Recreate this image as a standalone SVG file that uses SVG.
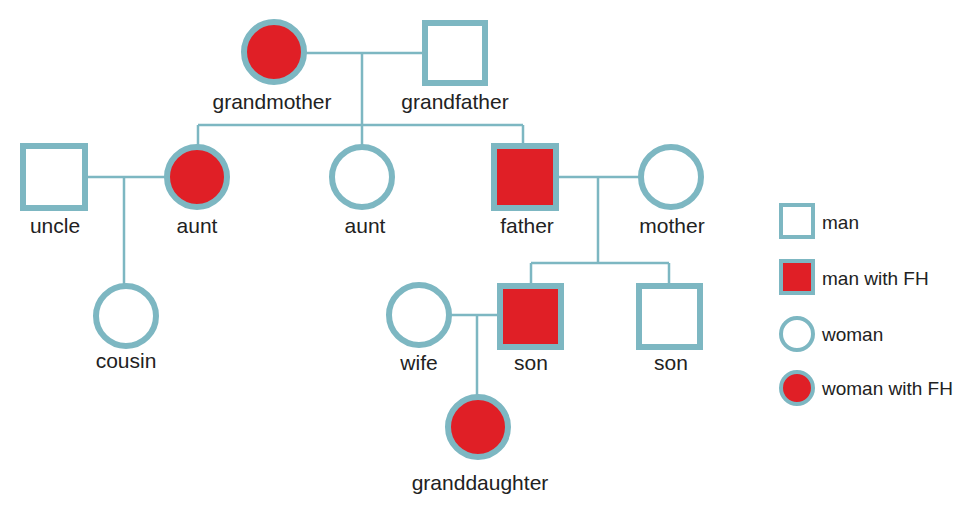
<svg xmlns="http://www.w3.org/2000/svg" width="980" height="508" viewBox="0 0 980 508">
<style>
.s{fill:#fff;stroke:#7db7c2;stroke-width:6}
.r{fill:#e01f26}
.l{stroke:#7db7c2;stroke-width:2.5;fill:none}
text{font-family:"Liberation Sans",Arial,sans-serif;font-size:21px;fill:#222;text-anchor:middle}
.g text{font-size:19px;text-anchor:start}
</style>
<rect width="980" height="508" fill="#fff"/>
<g id="connectors">
<path class="l" d="M305 53H424M362 53V125M198 125H523M198 125V146M362 125V146M523 125V146M86 177H166M124 177V286M557 177H640M598 177V263M531 263H669M531 263V285M669 263V285M450 315H499M477 315V397"/>
</g>
<g id="grandmother"><circle class="s r" cx="274" cy="52" r="30"/><text x="272" y="109">grandmother</text></g>
<g id="grandfather"><rect class="s" x="425" y="23" width="60" height="60"/><text x="455" y="109">grandfather</text></g>
<g id="uncle"><rect class="s" x="23" y="146" width="62" height="62"/><text x="55" y="233">uncle</text></g>
<g id="aunt1"><circle class="s r" cx="197" cy="177" r="30"/><text x="197" y="233">aunt</text></g>
<g id="aunt2"><circle class="s" cx="362" cy="177" r="30"/><text x="365" y="233">aunt</text></g>
<g id="father"><rect class="s r" x="494" y="146" width="62" height="62"/><text x="527" y="233">father</text></g>
<g id="mother"><circle class="s" cx="671" cy="177" r="30"/><text x="672" y="233">mother</text></g>
<g id="cousin"><circle class="s" cx="126" cy="316" r="30"/><text x="126" y="368">cousin</text></g>
<g id="wife"><circle class="s" cx="419" cy="315" r="30"/><text x="419" y="370">wife</text></g>
<g id="son1"><rect class="s r" x="500" y="286" width="61" height="61"/><text x="531" y="370">son</text></g>
<g id="son2"><rect class="s" x="639" y="286" width="61" height="61"/><text x="671" y="370">son</text></g>
<g id="granddaughter"><circle class="s r" cx="478" cy="427" r="30"/><text x="480" y="490">granddaughter</text></g>
<g id="legend" class="g">
<rect class="s" x="781" y="205" width="32" height="32" style="stroke-width:4"/><text x="822" y="229">man</text>
<rect class="s r" x="781" y="261" width="32" height="32" style="stroke-width:4"/><text x="822" y="285">man with FH</text>
<circle class="s" cx="797" cy="334" r="16" style="stroke-width:4"/><text x="822" y="341">woman</text>
<circle class="s r" cx="797" cy="388" r="16" style="stroke-width:4"/><text x="822" y="395">woman with FH</text>
</g>
</svg>
